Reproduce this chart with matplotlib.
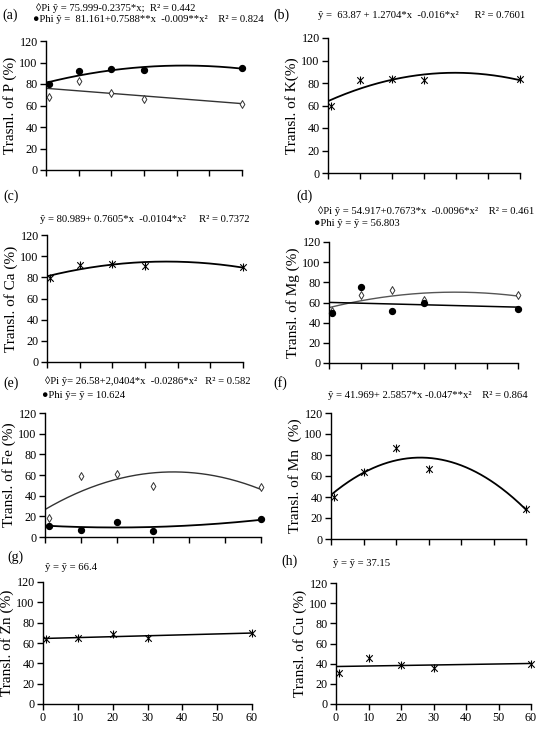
import numpy as np
import matplotlib
matplotlib.use("Agg")
import matplotlib.pyplot as plt

plt.rcParams['font.family'] = ['Liberation Serif', 'DejaVu Serif']

# ---------------- data ----------------
doses = [1, 10, 20, 30, 60]
xticks = [0, 10, 20, 30, 40, 50, 60]
yticks = [0, 20, 40, 60, 80, 100, 120]

p_pi = [68, 83, 72, 66, 61]
p_phi = [80, 92, 94, 93, 95]
k_vals = [60, 83, 84, 83, 84]
ca_vals = [79, 92, 93, 91, 90]
mg_pi = [52, 67, 72, 62, 67]
mg_phi = [50, 75, 52, 60, 54]
fe_pi = [18, 59, 61, 49, 48]
fe_phi = [11, 7, 15, 6, 17]
mn_vals = [40, 64, 87, 67, 29]
zn_vals = [64, 65, 69, 65, 70]
cu_vals = [31, 46, 39, 36, 40]

# fitted equation coefficients (c0, c1, c2)
p_pi_fit = [75.999, -0.2375, 0.0]
p_phi_fit = [81.161, 0.7588, -0.009]
k_fit = [63.87, 1.2704, -0.016]
ca_fit = [80.989, 0.7605, -0.0104]
mg_pi_fit = [54.917, 0.7673, -0.0096]
fe_pi_fit = [26.58, 2.0404, -0.0286]
mn_fit = [41.969, 2.5857, -0.047]

W, H = 540, 736
fig = plt.figure(figsize=(W / 100, H / 100), dpi=100)


def make_ax(L, R, T, B):
    ax = fig.add_axes([L / W, 1 - B / H, (R - L) / W, (B - T) / H])
    ax.set_xlim(0, 60)
    ax.set_ylim(0, 120)
    ax.set_xticks(xticks)
    ax.set_yticks(yticks)
    for s in ['top', 'right']:
        ax.spines[s].set_visible(False)
    for s in ['left', 'bottom']:
        ax.spines[s].set_linewidth(1.0)
    ax.tick_params(direction='out', length=4, width=1.0, labelsize=8.7, pad=2)
    return ax


def curve(coef):
    xs = np.linspace(0, 60, 200)
    return xs, coef[0] + coef[1] * xs + coef[2] * xs ** 2


def fitcurve(x, y, deg):
    c = np.polyfit(x, y, deg)
    xs = np.linspace(0, 60, 200)
    return xs, np.polyval(c, xs)


def stars(ax, x, y):
    ax.scatter(x, y, marker='x', color='black', s=22, linewidths=0.8, zorder=3, clip_on=False)
    ax.scatter(x, y, marker='|', color='black', s=26, linewidths=0.8, zorder=3, clip_on=False)


circ = dict(marker='o', color='black', s=18, zorder=3, clip_on=False)
diam = dict(marker='d', facecolors='white', edgecolors='#333333', s=16, linewidths=0.7, zorder=3, clip_on=False)

ylab_kw = dict(fontsize=11, labelpad=2)
eq_fs = 7.7
lab_fs = 10

# (a)
ax = make_ax(46, 242, 41, 170)
ax.plot(*curve(p_pi_fit), color='#333333', lw=1.0)
ax.plot(*curve(p_phi_fit), color='black', lw=1.3)
ax.scatter(doses, p_pi, **diam)
ax.scatter(doses, p_phi, **circ)
ax.set_xticklabels([])
ax.set_ylabel('Trasnl. of P (%)', **ylab_kw)
fig.text(2 / W, 1 - 15 / H, '(a)', fontsize=lab_fs, va='center')
fig.text(36 / W, 1 - 8 / H, '◊Pi ŷ = 75.999-0.2375*x;  R² = 0.442', fontsize=eq_fs, va='center')
fig.text(33 / W, 1 - 20 / H, '●Phi ŷ =  81.161+0.7588**x  -0.009**x²    R² = 0.824', fontsize=eq_fs, va='center')

# (b)
ax = make_ax(328, 520, 38, 173)
ax.plot(*curve(k_fit), color='black', lw=1.3)
stars(ax, doses, k_vals)
ax.set_xticklabels([])
ax.set_ylabel('Transl. of K(%)', **ylab_kw)
fig.text(273 / W, 1 - 15 / H, '(b)', fontsize=lab_fs, va='center')
fig.text(318 / W, 1 - 15 / H, 'ŷ =  63.87 + 1.2704*x  -0.016*x²      R² = 0.7601', fontsize=eq_fs, va='center')

# (c)
ax = make_ax(47, 243, 235, 362)
ax.plot(*curve(ca_fit), color='black', lw=1.3)
stars(ax, doses, ca_vals)
ax.set_xticklabels([])
ax.set_ylabel('Transl. of Ca (%)', **ylab_kw)
fig.text(3 / W, 1 - 196 / H, '(c)', fontsize=lab_fs, va='center')
fig.text(40 / W, 1 - 219 / H, 'ŷ = 80.989+ 0.7605*x  -0.0104*x²     R² = 0.7372', fontsize=eq_fs, va='center')

# (d)
ax = make_ax(329, 518, 242, 363)
ax.plot(*curve(mg_pi_fit), color='#555555', lw=1.0)
ax.plot(*fitcurve(doses, mg_phi, 1), color='black', lw=1.1)
ax.scatter(doses, mg_pi, **diam)
ax.scatter(doses, mg_phi, **circ)
ax.set_xticklabels([])
ax.set_ylabel('Transl. of Mg (%)', **ylab_kw)
fig.text(296 / W, 1 - 196 / H, '(d)', fontsize=lab_fs, va='center')
fig.text(318 / W, 1 - 211 / H, '◊Pi ŷ = 54.917+0.7673*x  -0.0096*x²    R² = 0.461', fontsize=eq_fs, va='center')
fig.text(314 / W, 1 - 224 / H, '●Phi ŷ = ȳ = 56.803', fontsize=eq_fs, va='center')

# (e)
ax = make_ax(45, 261, 413, 537)
ax.plot(*curve(fe_pi_fit), color='#333333', lw=1.0)
ax.plot(*fitcurve(doses, fe_phi, 2), color='black', lw=1.3)
ax.scatter(doses, fe_pi, **diam)
ax.scatter(doses, fe_phi, **circ)
ax.set_xticklabels([])
ax.set_ylabel('Transl. of Fe (%)', **ylab_kw)
fig.text(3 / W, 1 - 383 / H, '(e)', fontsize=lab_fs, va='center')
fig.text(45 / W, 1 - 381 / H, '◊Pi ŷ= 26.58+2,0404*x  -0.0286*x²   R² = 0.582', fontsize=eq_fs, va='center')
fig.text(42 / W, 1 - 396 / H, '●Phi ŷ= ȳ = 10.624', fontsize=eq_fs, va='center')

# (f)
ax = make_ax(331, 526, 413, 539)
ax.plot(*curve(mn_fit), color='black', lw=1.3)
stars(ax, doses, mn_vals)
ax.set_xticklabels([])
ax.set_ylabel('Transl. of Mn  (%)', **ylab_kw)
fig.text(273 / W, 1 - 383 / H, '(f)', fontsize=lab_fs, va='center')
fig.text(328 / W, 1 - 396 / H, 'ŷ = 41.969+ 2.5857*x -0.047**x²    R² = 0.864', fontsize=eq_fs, va='center')

# (g)
ax = make_ax(43, 252, 582, 704)
ax.plot(*fitcurve(doses, zn_vals, 1), color='black', lw=1.1)
stars(ax, doses, zn_vals)
ax.set_ylabel('Transl. of Zn (%)', **ylab_kw)
fig.text(7 / W, 1 - 557 / H, '(g)', fontsize=lab_fs, va='center')
fig.text(45 / W, 1 - 567 / H, 'ŷ = ȳ = 66.4', fontsize=eq_fs, va='center')

# (h)
ax = make_ax(336, 531, 583, 704)
ax.plot(*fitcurve(doses, cu_vals, 1), color='black', lw=1.1)
stars(ax, doses, cu_vals)
ax.set_ylabel('Transl. of Cu (%)', **ylab_kw)
fig.text(281 / W, 1 - 561 / H, '(h)', fontsize=lab_fs, va='center')
fig.text(333 / W, 1 - 564 / H, 'ŷ = ȳ = 37.15', fontsize=eq_fs, va='center')

fig.savefig('out.png', dpi=100, facecolor='white')
